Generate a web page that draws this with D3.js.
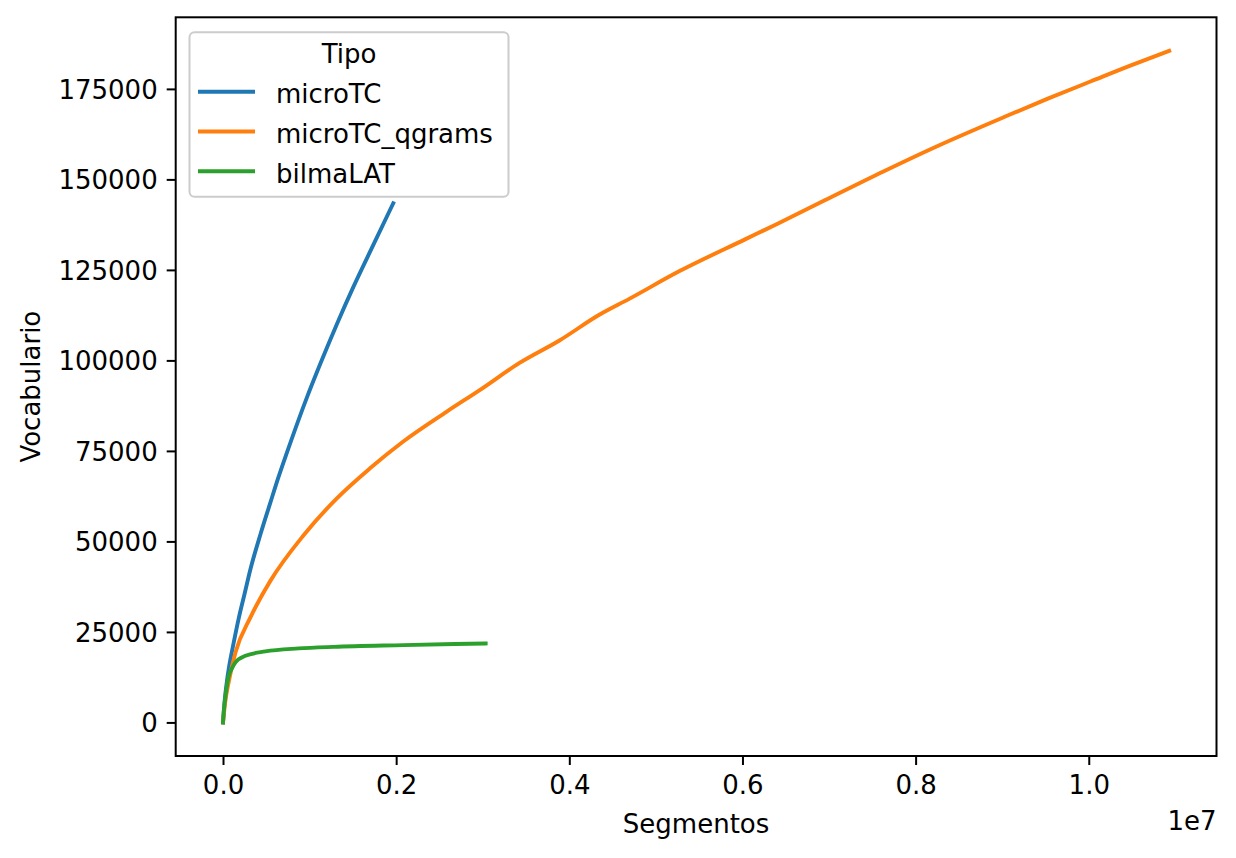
<!DOCTYPE html>
<html>
<head>
<meta charset="utf-8">
<script src="https://cdn.jsdelivr.net/npm/d3@7"></script>
<style>
  html, body { margin: 0; padding: 0; background: #fff; }
  svg { display: block; font-family: "DejaVu Sans", sans-serif; }
</style>
</head>
<body>
<svg id="chart" width="1236" height="858"></svg>
<script>
// ---- Data ----
const seriesNames = ["microTC", "microTC_qgrams", "bilmaLAT"];
const seriesColors = ["#1f77b4", "#ff7f0e", "#2ca02c"];

const microTC_x = [0, 20000, 48400, 66800, 120000, 182000, 250000, 316700, 431800, 546900, 642500, 739000, 969500, 1122600, 1314900, 1506000, 1736300, 1966000];
const microTC_y = [0, 6200, 11960, 14900, 21600, 28800, 35600, 42300, 51900, 60700, 67900, 74600, 89800, 99000, 110000, 120300, 131900, 143400];

const qgrams_x = [0, 25000, 66800, 143900, 316700, 546900, 930800, 1314900, 1698000, 2082000, 2581000, 2965000, 3425000, 3886000, 4346000, 4692000, 5268000, 6036000, 6400000, 6956500, 7628000, 8223000, 9029000, 9527000, 10026000, 10487000, 10929000];
const qgrams_y = [0, 5500, 11300, 19300, 29000, 39100, 51700, 61900, 70200, 77600, 85800, 91800, 99300, 105500, 112600, 117000, 124600, 133500, 137700, 144300, 152200, 158900, 167300, 172300, 177100, 181500, 185500];

const bilma_x = [0, 8000, 15000, 28800, 66800, 100000, 143900, 259000, 489000, 873000, 1275800, 2082000, 3034000];
const bilma_y = [0, 2800, 4500, 7350, 12870, 14800, 16570, 18400, 19610, 20440, 20880, 21350, 21820];

const xTicks = [0, 2000000, 4000000, 6000000, 8000000, 10000000];
const xTickLabels = ["0.0", "0.2", "0.4", "0.6", "0.8", "1.0"];
const yTicks = [0, 25000, 50000, 75000, 100000, 125000, 150000, 175000];
const yTickLabels = ["0", "25000", "50000", "75000", "100000", "125000", "150000", "175000"];

const legendTitle = "Tipo";
const xLabel = "Segmentos";
const yLabel = "Vocabulario";
const offsetLabel = "1e7";

// ---- Build series ----
const series = [
  { name: seriesNames[0], color: seriesColors[0], pts: microTC_x.map((x, i) => [x, microTC_y[i]]) },
  { name: seriesNames[1], color: seriesColors[1], pts: qgrams_x.map((x, i) => [x, qgrams_y[i]]) },
  { name: seriesNames[2], color: seriesColors[2], pts: bilma_x.map((x, i) => [x, bilma_y[i]]) }
];

// ---- Layout ----
const FS = 26;
const plot = { left: 175.7, top: 17.3, right: 1216.5, bottom: 756 };

const allX = [].concat(microTC_x, qgrams_x, bilma_x);
const allY = [].concat(microTC_y, qgrams_y, bilma_y);
const xMin = d3.min(allX), xMax = d3.max(allX);
const yMin = d3.min(allY), yMax = d3.max(allY);
const xPad = (xMax - xMin) * 0.05, yPad = (yMax - yMin) * 0.05;

const x = d3.scaleLinear().domain([xMin - xPad, xMax + xPad]).range([plot.left, plot.right]);
const y = d3.scaleLinear().domain([yMin - yPad, yMax + yPad]).range([plot.bottom, plot.top]);

const svg = d3.select("#chart");
svg.append("rect").attr("width", 1236).attr("height", 858).attr("fill", "#fff");

// Lines
const line = d3.line().x(d => x(d[0])).y(d => y(d[1])).curve(d3.curveMonotoneX);
const linesG = svg.append("g");
series.forEach(s => {
  linesG.append("path")
    .datum(s.pts)
    .attr("d", line)
    .attr("fill", "none")
    .attr("stroke", s.color)
    .attr("stroke-width", 3.9)
    .attr("stroke-linecap", "square")
    .attr("stroke-linejoin", "round");
});

// Axes
const xAxis = d3.axisBottom(x).tickValues(xTicks).tickFormat((d, i) => xTickLabels[i]).tickSize(9).tickPadding(9);
const yAxis = d3.axisLeft(y).tickValues(yTicks).tickFormat((d, i) => yTickLabels[i]).tickSize(9).tickPadding(9);

const gx = svg.append("g").attr("transform", `translate(0,${plot.bottom})`).call(xAxis);
const gy = svg.append("g").attr("transform", `translate(${plot.left},0)`).call(yAxis);
[gx, gy].forEach(g => {
  g.select(".domain").remove();
  g.selectAll(".tick line").attr("stroke", "#000").attr("stroke-width", 2);
  g.selectAll(".tick text").attr("fill", "#000").style("font-size", FS + "px").style("font-family", "DejaVu Sans");
});
gx.selectAll(".tick text").attr("dy", "0.76em");
gy.selectAll(".tick text").attr("dy", "0.36em");

// Frame
svg.append("rect")
  .attr("x", plot.left).attr("y", plot.top)
  .attr("width", plot.right - plot.left).attr("height", plot.bottom - plot.top)
  .attr("fill", "none").attr("stroke", "#000").attr("stroke-width", 2);

// Axis labels
svg.append("text").attr("x", (plot.left + plot.right) / 2).attr("y", 833)
  .attr("text-anchor", "middle").style("font-size", FS + "px").text(xLabel);
svg.append("text").attr("x", plot.right).attr("y", 830)
  .attr("text-anchor", "end").style("font-size", FS + "px").text(offsetLabel);
svg.append("text")
  .attr("transform", `translate(39.5,${(plot.top + plot.bottom) / 2}) rotate(-90)`)
  .attr("text-anchor", "middle").style("font-size", FS + "px").text(yLabel);

// Legend
const lg = svg.append("g");
lg.append("rect").attr("x", 189.5).attr("y", 32.3).attr("width", 319).attr("height", 164.5)
  .attr("rx", 5).attr("ry", 5)
  .attr("fill", "#fff").attr("fill-opacity", 0.8)
  .attr("stroke", "#cccccc").attr("stroke-width", 2);
lg.append("text").attr("x", 349).attr("y", 63).attr("text-anchor", "middle")
  .style("font-size", FS + "px").text(legendTitle);
series.forEach((s, i) => {
  const yy = 91.7 + i * 39.8;
  lg.append("line").attr("x1", 198).attr("x2", 255).attr("y1", yy).attr("y2", yy)
    .attr("stroke", s.color).attr("stroke-width", 3.9);
  lg.append("text").attr("x", 276).attr("y", yy + 11.3)
    .style("font-size", FS + "px").text(s.name);
});
</script>
</body>
</html>
